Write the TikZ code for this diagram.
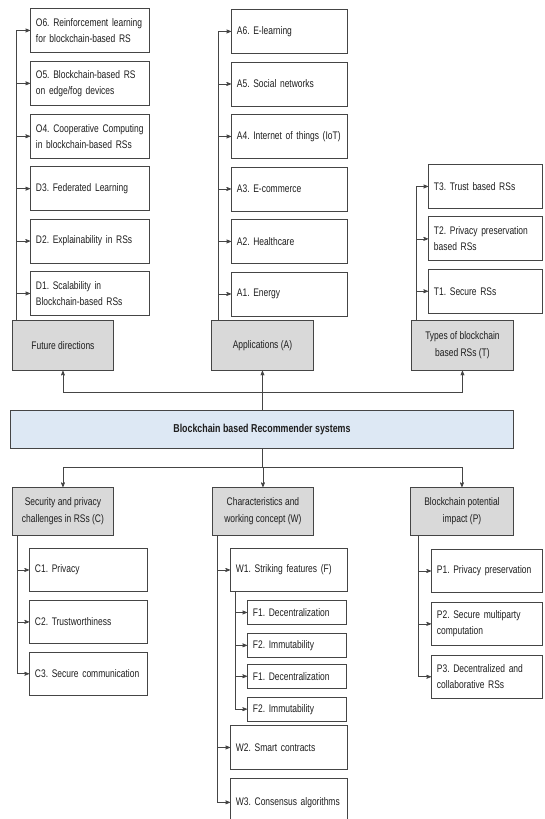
\documentclass[tikz,border=0pt]{standalone}
\usepackage{fontspec}
\setmainfont[FakeStretch=0.77]{Liberation Sans}
\usepackage{xcolor}
\usepackage{tikz}
\usetikzlibrary{arrows}
\usetikzlibrary{positioning}
\definecolor{linegray}{HTML}{454545}
\definecolor{boxgray}{HTML}{D9D9D9}
\definecolor{barblue}{HTML}{DDE8F4}
\definecolor{inkgray}{HTML}{1E1E1E}
\frenchspacing
\hyphenpenalty=10000
\exhyphenpenalty=10000
\tikzset{
	item node/.style={draw=linegray,line width=0.9pt,anchor=north west,
		minimum height=44pt,text width=#1,inner xsep=5.5pt,inner ysep=0pt,
		align=left,text=inkgray,font=\fontsize{11}{16}\selectfont},
	item node/.default=108pt,
	small node/.style={item node=#1,minimum height=24pt},
	group node/.style={draw=linegray,line width=0.9pt,fill=boxgray,anchor=north west,
		minimum width=101pt,minimum height=50pt,align=center,inner sep=2pt,
		text=inkgray,font=\fontsize{11}{17}\selectfont},
	root node/.style={draw=linegray,line width=0.9pt,fill=barblue,anchor=north west,
		minimum width=503pt,minimum height=38pt,text=inkgray,
		font=\fontsize{11.5}{14}\selectfont\bfseries},
	link/.style={draw=linegray,line width=0.7pt}
}

\begin{document}
\begin{tikzpicture}[x=1pt,y=-1pt,->,>=stealth']
	\useasboundingbox (0,0) rectangle (544,819);
	% top row
	\node [item node] (o6) at (30,8) {O6. Reinforcement learning\\for blockchain-based RS};
	\node [item node,below=8pt of o6] (o5) {O5. Blockchain-based RS\\on edge/fog devices};
	\node [item node,below=8pt of o5] (o4) {O4. Cooperative Computing\\in blockchain-based RSs};
	\node [item node,below=7.5pt of o4] (d3) {D3. Federated Learning};
	\node [item node,below=7.5pt of d3] (d2) {D2. Explainability in RSs};
	\node [item node,below=7.5pt of d2] (d1) {D1. Scalability in\\Blockchain-based RSs};
	\node [group node] (fut) at (12,320) {Future directions};

	\node [item node=105pt] (a6) at (231,9) {A6. E-learning};
	\node [item node=105pt,below=7.6pt of a6] (a5) {A5. Social networks};
	\node [item node=105pt,below=7.6pt of a5] (a4) {A4. Internet of things (IoT)};
	\node [item node=105pt,below=7.6pt of a4] (a3) {A3. E-commerce};
	\node [item node=105pt,below=7.6pt of a3] (a2) {A2. Healthcare};
	\node [item node=105pt,below=7.6pt of a2] (a1) {A1. Energy};
	\node [group node,minimum width=102pt] (app) at (211,320) {Applications (A)};

	\node [item node=103pt] (t3) at (428,164) {T3. Trust based RSs};
	\node [item node=103pt,below=7.5pt of t3] (t2) {T2. Privacy preservation\\based RSs};
	\node [item node=103pt,below=7.5pt of t2] (t1) {T1. Secure RSs};
	\node [group node,minimum width=102pt] (typ) at (411,320) {Types of blockchain\\based RSs (T)};

	\foreach \n in {o6,o5,o4,d3,d2,d1}
		\draw [link] ([xshift=4pt]fut.north west) |- (\n.west);
	\foreach \n in {a6,a5,a4,a3,a2,a1}
		\draw [link] ([xshift=7pt]app.north west) |- (\n.west);
	\foreach \n in {t3,t2,t1}
		\draw [link] ([xshift=5pt]typ.north west) |- (\n.west);

	% middle bar
	\node [root node] (root) at (10,410) {Blockchain based Recommender systems};
	\draw [link] (root.north) -- ++(0,-18) -| (fut.south);
	\draw [link] (root.north) -- ++(0,-18) -| (app.south);
	\draw [link] (root.north) -- ++(0,-18) -| (typ.south);

	% bottom row
	\node [group node,minimum height=48pt] (sec) at (12,487) {Security and privacy\\challenges in RSs (C)};
	\node [group node,minimum height=48pt] (wrk) at (212,487) {Characteristics and\\working concept (W)};
	\node [group node,minimum height=48pt,minimum width=103pt] (pot) at (410,487) {Blockchain potential\\impact (P)};
	\draw [link] (root.south) -- ++(0,18) -| (sec.north);
	\draw [link] (root.south) -- ++(0,18) -| (wrk.north);
	\draw [link] (root.south) -- ++(0,18) -| (pot.north);

	\node [item node=107pt,minimum height=43pt] (c1) at (29,548) {C1. Privacy};
	\node [item node=107pt,minimum height=43pt,below=8pt of c1] (c2) {C2. Trustworthiness};
	\node [item node=107pt,minimum height=43pt,below=8pt of c2] (c3) {C3. Secure communication};
	\foreach \n in {c1,c2,c3}
		\draw [link] ([xshift=5pt]sec.south west) |- (\n.west);

	\node [item node=106pt,minimum height=43pt] (w1) at (230,548) {W1. Striking features (F)};
	\node [small node=88pt] (f1) at (247,600) {F1. Decentralization};
	\node [small node=88pt,below=8pt of f1] (f2) {F2. Immutability};
	\node [small node=88pt,below=6pt of f2] (f3) {F1. Decentralization};
	\node [small node=88pt,below=8pt of f3] (f4) {F2. Immutability};
	\node [item node=106pt] (w2) at (230,725) {W2. Smart contracts};
	\node [item node=106pt,minimum height=48pt,below=8pt of w2] (w3) {W3. Consensus algorithms};
	\foreach \n in {w1,w2,w3}
		\draw [link] ([xshift=5pt]wrk.south west) |- (\n.west);
	\foreach \n in {f1,f2,f3,f4}
		\draw [link] ([xshift=5pt]w1.south west) |- (\n.west);

	\node [item node=100pt,minimum height=43pt] (p1) at (431,549) {P1. Privacy preservation};
	\node [item node=100pt,minimum height=43pt,below=9pt of p1] (p2) {P2. Secure multiparty\\computation};
	\node [item node=100pt,minimum height=43pt,below=9pt of p2] (p3) {P3. Decentralized and\\collaborative RSs};
	\foreach \n in {p1,p2,p3}
		\draw [link] ([xshift=8pt]pot.south west) |- (\n.west);
\end{tikzpicture}
\end{document}
